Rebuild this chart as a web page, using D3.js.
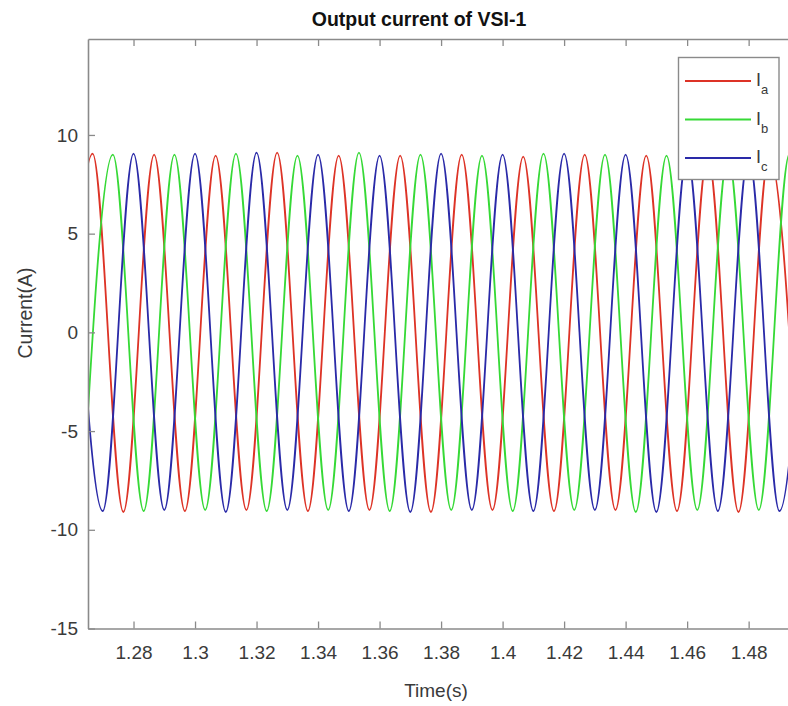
<!DOCTYPE html>
<html>
<head>
<meta charset="utf-8">
<script src="https://cdn.jsdelivr.net/npm/d3@7"></script>
<style>
  html, body { margin: 0; padding: 0; background: #ffffff; }
  svg { display: block; font-family: "Liberation Sans", Arial, Helvetica, sans-serif; }
</style>
</head>
<body>
<svg id="chart" width="788" height="706"></svg>
<script>
// Phase currents of VSI-1: local extrema (time in s, current in A) of each phase.
const phaseATimes = [1.2567, 1.2667, 1.2767, 1.2867, 1.2967, 1.3067, 1.3167, 1.3267, 1.3367, 1.3467, 1.3567, 1.3667, 1.3767,
                     1.3867, 1.3967, 1.4067, 1.4167, 1.4267, 1.4367, 1.4467, 1.4567, 1.4667, 1.4767, 1.4867, 1.4967];
const phaseAValues = [-9.0, 9.05, -9.1, 9.0, -9.05, 8.95, -9.0, 9.1, -9.05, 8.95, -9.0, 8.95, -9.1,
                      9.0, -9.0, 8.9, -9.05, 9.0, -9.0, 8.95, -9.05, 9.0, -9.1, 9.0, -9.0];

const phaseBTimes = [1.2633, 1.2733, 1.2833, 1.2933, 1.3033, 1.3133, 1.3233, 1.3333, 1.3433, 1.3533, 1.3633, 1.3733, 1.3833,
                     1.3933, 1.4033, 1.4133, 1.4233, 1.4333, 1.4433, 1.4533, 1.4633, 1.4733, 1.4833, 1.4933, 1.5033];
const phaseBValues = [-9.0, 9.0, -9.05, 9.0, -9.0, 9.05, -9.05, 8.95, -9.0, 9.1, -9.05, 9.0, -9.0,
                      8.95, -9.05, 9.05, -9.0, 9.0, -9.1, 8.95, -9.0, 9.0, -9.0, 9.05, -9.0];

const phaseCTimes = [1.26, 1.27, 1.28, 1.29, 1.30, 1.31, 1.32, 1.33, 1.34, 1.35, 1.36, 1.37, 1.38,
                     1.39, 1.40, 1.41, 1.42, 1.43, 1.44, 1.45, 1.46, 1.47, 1.48, 1.49, 1.50];
const phaseCValues = [9.0, -9.05, 9.05, -9.0, 9.05, -9.1, 9.1, -9.0, 9.0, -9.05, 8.95, -9.1, 9.05,
                      -9.0, 9.0, -9.05, 9.05, -9.0, 9.0, -9.1, 9.0, -9.05, 9.0, -9.05, 9.0];

const seriesNames = ["a", "b", "c"];
const seriesColors = ["#dd3326", "#36d936", "#2a2aa8"];

const xTickValues = [1.28, 1.30, 1.32, 1.34, 1.36, 1.38, 1.40, 1.42, 1.44, 1.46, 1.48];
const xTickLabels = ["1.28", "1.3", "1.32", "1.34", "1.36", "1.38", "1.4", "1.42", "1.44", "1.46", "1.48"];
const yTickValues = [-15, -10, -5, 0, 5, 10];
const yTickLabels = ["-15", "-10", "-5", "0", "5", "10"];

const xDomain = [1.2652, 1.4967];
const yDomain = [-15, 14.86];

const titleText = "Output current of VSI-1";
const xLabelText = "Time(s)";
const yLabelText = "Current(A)";

// ---- layout ----
const plot = { left: 88, right: 800, top: 39, bottom: 628.5 };
const axisColor = "#8a8a8a";
const textColor = "#3a3a3a";

const svg = d3.select("#chart");

const x = d3.scaleLinear().domain(xDomain).range([plot.left, plot.right]);
const y = d3.scaleLinear().domain(yDomain).range([plot.bottom, plot.top]);

const series = [
  { name: seriesNames[0], color: seriesColors[0], pts: phaseATimes.map((t, i) => [t, phaseAValues[i]]) },
  { name: seriesNames[1], color: seriesColors[1], pts: phaseBTimes.map((t, i) => [t, phaseBValues[i]]) },
  { name: seriesNames[2], color: seriesColors[2], pts: phaseCTimes.map((t, i) => [t, phaseCValues[i]]) }
];

svg.append("defs").append("clipPath").attr("id", "plotClip")
  .append("rect")
  .attr("x", plot.left).attr("y", plot.top)
  .attr("width", plot.right - plot.left).attr("height", plot.bottom - plot.top);

// waveforms: monotone cubic through the extrema gives a flat top at each peak
const line = d3.line()
  .x(d => x(d[0]))
  .y(d => y(d[1]))
  .curve(d3.curveMonotoneX);

const lines = svg.append("g").attr("clip-path", "url(#plotClip)");
series.forEach(s => {
  lines.append("path")
    .datum(s.pts)
    .attr("fill", "none")
    .attr("stroke", s.color)
    .attr("stroke-width", 1.8)
    .attr("stroke-linejoin", "round")
    .attr("d", line);
});

// ---- axes ----
const xAxis = d3.axisBottom(x)
  .tickValues(xTickValues)
  .tickFormat((d, i) => xTickLabels[i])
  .tickSizeInner(-7)
  .tickSizeOuter(0)
  .tickPadding(17);

const xAxisTop = d3.axisTop(x)
  .tickValues(xTickValues)
  .tickFormat("")
  .tickSizeInner(-7)
  .tickSizeOuter(0);

const yAxis = d3.axisLeft(y)
  .tickValues(yTickValues)
  .tickFormat((d, i) => yTickLabels[i])
  .tickSizeInner(-7)
  .tickSizeOuter(0)
  .tickPadding(10);

function styleAxis(g) {
  g.select(".domain").attr("stroke", axisColor).attr("stroke-width", 1.6);
  g.selectAll(".tick line").attr("stroke", axisColor).attr("stroke-width", 1.3);
  g.selectAll(".tick text")
    .attr("fill", textColor)
    .style("font-size", "19px")
    .style("font-family", "\"Liberation Sans\", Arial, sans-serif");
}

svg.append("g")
  .attr("transform", `translate(0,${plot.bottom})`)
  .call(xAxis)
  .call(styleAxis);

svg.append("g")
  .attr("transform", `translate(0,${plot.top})`)
  .call(xAxisTop)
  .call(styleAxis);

svg.append("g")
  .attr("transform", `translate(${plot.left},0)`)
  .call(yAxis)
  .call(styleAxis);

// ---- title & labels ----
svg.append("text")
  .attr("x", 419).attr("y", 26)
  .attr("text-anchor", "middle")
  .attr("fill", "#111")
  .style("font-size", "19.5px")
  .style("font-weight", "bold")
  .text(titleText);

svg.append("text")
  .attr("x", 436).attr("y", 697)
  .attr("text-anchor", "middle")
  .attr("fill", textColor)
  .style("font-size", "19px")
  .text(xLabelText);

svg.append("text")
  .attr("transform", `translate(32,${313}) rotate(-90)`)
  .attr("text-anchor", "middle")
  .attr("fill", textColor)
  .style("font-size", "19.5px")
  .text(yLabelText);

// ---- legend ----
const legend = { x: 678.5, y: 57.5, w: 100.5, h: 122, rowY: [81, 119.5, 158] };
const lg = svg.append("g");
lg.append("rect")
  .attr("x", legend.x).attr("y", legend.y)
  .attr("width", legend.w).attr("height", legend.h)
  .attr("fill", "#ffffff")
  .attr("stroke", axisColor)
  .attr("stroke-width", 1.4);

series.forEach((s, i) => {
  const ry = legend.rowY[i];
  lg.append("line")
    .attr("x1", 685).attr("x2", 751)
    .attr("y1", ry).attr("y2", ry)
    .attr("stroke", s.color)
    .attr("stroke-width", 1.8);
  const t = lg.append("text")
    .attr("x", 756).attr("y", ry + 5)
    .attr("fill", textColor)
    .style("font-size", "18px");
  t.append("tspan").text("I");
  t.append("tspan")
    .attr("dy", 8)
    .style("font-size", "13px")
    .text(s.name);
});
</script>
</body>
</html>
